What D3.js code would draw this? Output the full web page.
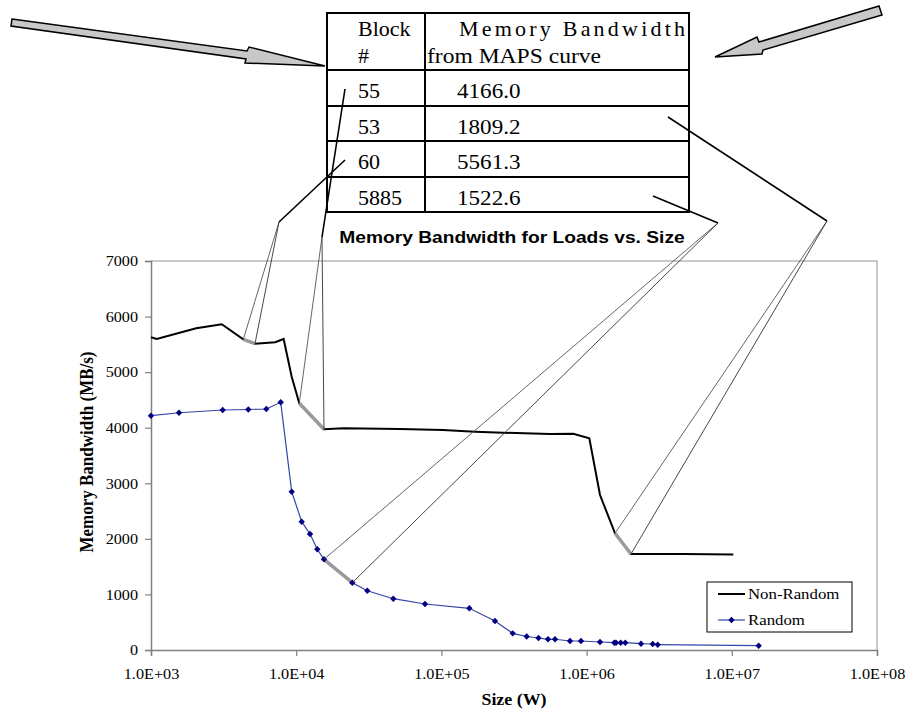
<!DOCTYPE html>
<meta charset="utf-8">
<style>
    body { margin: 0; background: #fff; }
    .serif { font-family: "Liberation Serif", "Times New Roman", serif; }
    .sans { font-family: "Liberation Sans", Arial, sans-serif; }
</style>
<body>
<script src="https://d3js.org/d3.v7.min.js"></script>
<script>
// data
var nrSize = [1000, 1095, 2048, 3072, 4323, 5203, 7168, 8192, 9311, 10500, 15540, 21090, 51900, 102600,
    170300, 266900, 559800, 810000, 1044000, 1237000, 1569000, 2022000, 4630000, 10240000];
var nrBw = [5627, 5597, 5789, 5861, 5591, 5512, 5537, 5597, 4918, 4440, 3972, 3990, 3977, 3959,
    3928, 3910, 3887, 3892, 3810, 2789, 2100, 1728, 1728, 1719];

var rSize = [1000, 1559, 3117, 4679, 6226, 7823, 9311, 10910, 12450, 13970, 15540, 24340, 30880, 46640,
    77100, 155700, 233900, 309700, 386700, 466400, 542200, 605900, 768600, 915000, 1237000, 1551000,
    1594000, 1717000, 1847000, 2370000, 2852000, 3088000, 15320000];
var rBw = [4216, 4269, 4319, 4328, 4337, 4457, 2849, 2309, 2087, 1812, 1632, 1211, 1067, 923,
    828, 750, 522, 300, 243, 216, 193, 193, 162, 162, 144, 131,
    131, 131, 131, 113, 108, 95, 77];

var blockIds = ["55", "53", "60", "5885"];
var mapsBw = ["4166.0", "1809.2", "5561.3", "1522.6"];
// which segment of which curve each block points at (start index)
var blockSeries = ["nr", "nr", "nr", "r"];
var blockIndex = [9, 20, 4, 10];

var yTicks = [0, 1000, 2000, 3000, 4000, 5000, 6000, 7000];
var xTicks = [1e3, 1e4, 1e5, 1e6, 1e7, 1e8];
var seriesNames = ["Non-Random", "Random"];

var svg = d3.select("body").append("svg").attr("width", 908).attr("height", 711);

var x = d3.scaleLog().domain([1e3, 1e8]).range([151, 877]),
    y = d3.scaleLinear().domain([0, 7000]).range([650, 261]);

// text with a sideways stretch, the scan is a little distorted
function stext(g, px, py, str, size, cls, anchor, sx) {
    return g.append("text")
        .attr("class", cls)
        .attr("transform", "translate(" + px + "," + py + ") scale(" + (sx || 1) + ",1)")
        .attr("text-anchor", anchor || "start")
        .style("font-size", size + "px")
        .text(str);
}

// plot frame
svg.append("path")
    .attr("d", "M151,261H877V650")
    .attr("fill", "none").attr("stroke", "#b8b8b8").attr("stroke-width", 1.5);

var xAxis = svg.append("g").attr("transform", "translate(0,650)")
    .call(d3.axisBottom(x).tickValues(xTicks).tickSize(6).tickPadding(12)
        .tickFormat(function(v) { return "1.0E+" + String(Math.round(Math.log10(v))).padStart(2, "0"); }));
var yAxis = svg.append("g").attr("transform", "translate(151,0)")
    .call(d3.axisLeft(y).tickValues(yTicks).tickSize(6).tickPadding(6).tickFormat(d3.format("d")));

[xAxis, yAxis].forEach(function(a) {
    a.select(".domain").attr("stroke", "#808080").attr("stroke-width", 1.5);
    a.selectAll(".tick line").attr("stroke", "#808080").attr("stroke-width", 1.2);
    a.selectAll("text").attr("class", "serif").style("font-size", "15px").attr("fill", "#000")
        .attr("transform", "scale(1.08,1)");
});

// curves
var nrPts = nrSize.map(function(s, i) { return [x(s), y(nrBw[i])]; });
var rPts = rSize.map(function(s, i) { return [x(s), y(rBw[i])]; });
var line = d3.line();

svg.append("path").attr("d", line(rPts)).attr("fill", "none")
    .attr("stroke", "#3445a8").attr("stroke-width", 1.2);
svg.append("path").attr("d", line(nrPts)).attr("fill", "none")
    .attr("stroke", "#000").attr("stroke-width", 2);

var diamond = "M0,-3.2L3.2,0L0,3.2L-3.2,0Z";

// highlighted segments
blockIds.forEach(function(b, k) {
    var pts = blockSeries[k] == "nr" ? nrPts : rPts;
    var i = blockIndex[k];
    svg.append("path").attr("d", line([pts[i], pts[i + 1]]))
        .attr("stroke", "#9a9a9a").attr("stroke-width", 3.5).attr("fill", "none");
});

svg.append("g").selectAll("path").data(rPts).enter().append("path")
    .attr("d", diamond)
    .attr("transform", function(d) { return "translate(" + d[0] + "," + d[1] + ")"; })
    .attr("fill", "#000080");

// title and axis titles
stext(svg, 512, 243, "Memory Bandwidth for Loads vs. Size", 16, "sans", "middle", 1.2).style("font-weight", "bold");
stext(svg, 514, 705, "Size (W)", 16, "serif", "middle", 1.12).style("font-weight", "bold");
svg.append("text").attr("class", "serif")
    .attr("transform", "translate(93,452) scale(1.15,1) rotate(-90)")
    .attr("text-anchor", "middle").style("font-size", "17px").style("font-weight", "bold")
    .text("Memory Bandwidth (MB/s)");

// legend
var lg = svg.append("g");
lg.append("rect").attr("x", 707).attr("y", 582).attr("width", 145).attr("height", 50)
    .attr("fill", "#fff").attr("stroke", "#000").attr("stroke-width", 1);
lg.append("line").attr("x1", 718).attr("x2", 745).attr("y1", 594).attr("y2", 594)
    .attr("stroke", "#000").attr("stroke-width", 2);
lg.append("line").attr("x1", 718).attr("x2", 745).attr("y1", 620).attr("y2", 620)
    .attr("stroke", "#3445a8").attr("stroke-width", 1.2);
lg.append("path").attr("d", diamond).attr("transform", "translate(731.5,620)").attr("fill", "#000080");
stext(lg, 748, 599, seriesNames[0], 15, "serif", "start", 1.12);
stext(lg, 748, 625, seriesNames[1], 15, "serif", "start", 1.12);

// table
var tx0 = 327, tDiv = 425, tx1 = 689, rowY = [13, 70, 106, 141, 177, 212];
var tb = svg.append("g");
tb.append("rect").attr("x", tx0).attr("y", rowY[0]).attr("width", tx1 - tx0).attr("height", rowY[5] - rowY[0])
    .attr("fill", "#fff").attr("stroke", "#000").attr("stroke-width", 2);
tb.append("line").attr("x1", tDiv).attr("x2", tDiv).attr("y1", rowY[0]).attr("y2", rowY[5])
    .attr("stroke", "#000").attr("stroke-width", 2);
rowY.slice(1, 5).forEach(function(ry) {
    tb.append("line").attr("x1", tx0).attr("x2", tx1).attr("y1", ry).attr("y2", ry)
        .attr("stroke", "#000").attr("stroke-width", 2);
});
stext(tb, 358, 36, "Block", 22, "serif");
stext(tb, 358, 63, "#", 22, "serif");
tb.append("text").attr("class", "serif").attr("x", 459).attr("y", 36).style("font-size", "22px")
    .attr("textLength", 226).attr("lengthAdjust", "spacing").text("Memory    Bandwidth");
tb.append("text").attr("class", "serif").attr("x", 427).attr("y", 63).style("font-size", "22px")
    .attr("textLength", 174).attr("lengthAdjust", "spacingAndGlyphs").text("from MAPS curve");
blockIds.forEach(function(b, k) {
    var base = rowY[k + 1] + 28;
    stext(tb, 358, base, b, 22, "serif");
    stext(tb, 457, base, mapsBw[k], 22, "serif", "start", 1.05);
});

// call-out lines from the table to the curve segments
var calloutFrom = [[345, 89], [668, 117], [345, 160], [653, 196]];
var calloutKnee = [[322, 237], [827, 221], [279, 222], [718, 223]];
blockIds.forEach(function(b, k) {
    var pts = blockSeries[k] == "nr" ? nrPts : rPts;
    var i = blockIndex[k];
    svg.append("path").attr("d", line([calloutFrom[k], calloutKnee[k]]))
        .attr("stroke", "#000").attr("stroke-width", 1.6).attr("fill", "none");
    svg.append("path").attr("d", line([calloutKnee[k], pts[i]]))
        .attr("stroke", "#555").attr("stroke-width", 0.9).attr("fill", "none");
    svg.append("path").attr("d", line([calloutKnee[k], pts[i + 1]]))
        .attr("stroke", "#333").attr("stroke-width", 0.9).attr("fill", "none");
});

// block arrows
var arrowL = [[12, 19], [247, 51], [249, 47], [325, 66], [245, 63], [246, 59], [11, 26]];
var arrowR = [[879, 6], [759, 42], [757, 37], [715, 57], [762, 54], [763, 50], [882, 15]];
[arrowL, arrowR].forEach(function(p) {
    svg.append("path").attr("d", line(p) + "Z")
        .attr("fill", "#c8c8c8").attr("stroke", "#000").attr("stroke-width", 1.5)
        .attr("stroke-linejoin", "miter");
});
</script>
</body>
